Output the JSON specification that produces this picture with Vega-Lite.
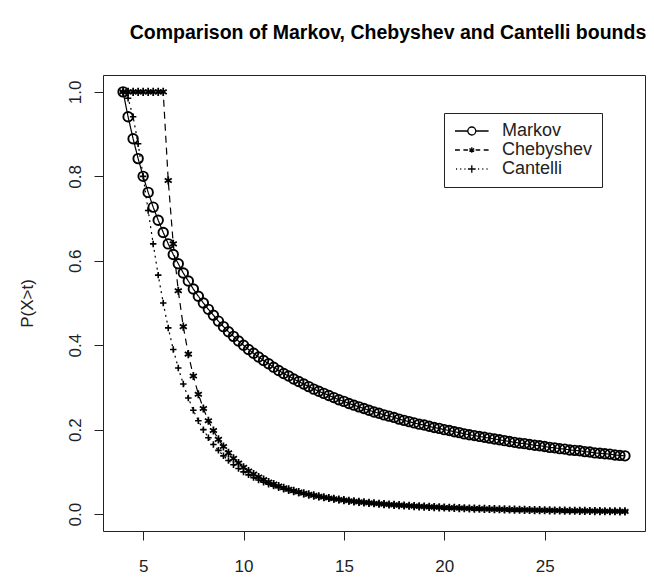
{
  "$schema": "https://vega.github.io/schema/vega-lite/v6.json",
  "width": 542,
  "height": 456,
  "autosize": {"type": "none"},
  "padding": {"left": 103, "top": 75, "right": 9, "bottom": 55},
  "background": "white",
  "title": {"text": "Comparison of Markov, Chebyshev and Cantelli bounds", "font": "Liberation Sans", "fontSize": 19.5, "fontWeight": "bold", "color": "black", "anchor": "middle", "offset": 32, "dx": 14},
  "config": {
    "view": {"stroke": "#222", "strokeWidth": 1},
    "axis": {"domain": false, "grid": false, "tickColor": "#222", "tickSize": 9, "labelFont": "Liberation Sans", "labelFontSize": 17, "labelColor": "#222", "titleFont": "Liberation Sans", "titleFontSize": 17, "titleFontWeight": "normal", "titleColor": "#222"}
  },
  "data": {"values": [
    {"t":4,"Markov":1,"Chebyshev":1,"Cantelli":1},
    {"t":4.25,"Markov":0.941,"Chebyshev":1,"Cantelli":0.985},
    {"t":4.5,"Markov":0.889,"Chebyshev":1,"Cantelli":0.941},
    {"t":4.75,"Markov":0.842,"Chebyshev":1,"Cantelli":0.877},
    {"t":5,"Markov":0.8,"Chebyshev":1,"Cantelli":0.8},
    {"t":5.25,"Markov":0.762,"Chebyshev":1,"Cantelli":0.719},
    {"t":5.5,"Markov":0.727,"Chebyshev":1,"Cantelli":0.64},
    {"t":5.75,"Markov":0.696,"Chebyshev":1,"Cantelli":0.566},
    {"t":6,"Markov":0.667,"Chebyshev":1,"Cantelli":0.5},
    {"t":6.25,"Markov":0.64,"Chebyshev":0.79,"Cantelli":0.441},
    {"t":6.5,"Markov":0.615,"Chebyshev":0.64,"Cantelli":0.39},
    {"t":6.75,"Markov":0.593,"Chebyshev":0.529,"Cantelli":0.346},
    {"t":7,"Markov":0.571,"Chebyshev":0.444,"Cantelli":0.308},
    {"t":7.25,"Markov":0.552,"Chebyshev":0.379,"Cantelli":0.275},
    {"t":7.5,"Markov":0.533,"Chebyshev":0.327,"Cantelli":0.246},
    {"t":7.75,"Markov":0.516,"Chebyshev":0.284,"Cantelli":0.221},
    {"t":8,"Markov":0.5,"Chebyshev":0.25,"Cantelli":0.2},
    {"t":8.25,"Markov":0.485,"Chebyshev":0.221,"Cantelli":0.181},
    {"t":8.5,"Markov":0.471,"Chebyshev":0.198,"Cantelli":0.165},
    {"t":8.75,"Markov":0.457,"Chebyshev":0.177,"Cantelli":0.151},
    {"t":9,"Markov":0.444,"Chebyshev":0.16,"Cantelli":0.138},
    {"t":9.25,"Markov":0.432,"Chebyshev":0.145,"Cantelli":0.127},
    {"t":9.5,"Markov":0.421,"Chebyshev":0.132,"Cantelli":0.117},
    {"t":9.75,"Markov":0.41,"Chebyshev":0.121,"Cantelli":0.108},
    {"t":10,"Markov":0.4,"Chebyshev":0.111,"Cantelli":0.1},
    {"t":10.25,"Markov":0.39,"Chebyshev":0.102,"Cantelli":0.093},
    {"t":10.5,"Markov":0.381,"Chebyshev":0.0947,"Cantelli":0.0865},
    {"t":10.75,"Markov":0.372,"Chebyshev":0.0878,"Cantelli":0.0807},
    {"t":11,"Markov":0.364,"Chebyshev":0.0816,"Cantelli":0.0755},
    {"t":11.25,"Markov":0.356,"Chebyshev":0.0761,"Cantelli":0.0707},
    {"t":11.5,"Markov":0.348,"Chebyshev":0.0711,"Cantelli":0.0664},
    {"t":11.75,"Markov":0.34,"Chebyshev":0.0666,"Cantelli":0.0624},
    {"t":12,"Markov":0.333,"Chebyshev":0.0625,"Cantelli":0.0588},
    {"t":12.25,"Markov":0.327,"Chebyshev":0.0588,"Cantelli":0.0555},
    {"t":12.5,"Markov":0.32,"Chebyshev":0.0554,"Cantelli":0.0525},
    {"t":12.75,"Markov":0.314,"Chebyshev":0.0522,"Cantelli":0.0497},
    {"t":13,"Markov":0.308,"Chebyshev":0.0494,"Cantelli":0.0471},
    {"t":13.25,"Markov":0.302,"Chebyshev":0.0467,"Cantelli":0.0447},
    {"t":13.5,"Markov":0.296,"Chebyshev":0.0443,"Cantelli":0.0424},
    {"t":13.75,"Markov":0.291,"Chebyshev":0.0421,"Cantelli":0.0404},
    {"t":14,"Markov":0.286,"Chebyshev":0.04,"Cantelli":0.0385},
    {"t":14.25,"Markov":0.281,"Chebyshev":0.0381,"Cantelli":0.0367},
    {"t":14.5,"Markov":0.276,"Chebyshev":0.0363,"Cantelli":0.035},
    {"t":14.75,"Markov":0.271,"Chebyshev":0.0346,"Cantelli":0.0335},
    {"t":15,"Markov":0.267,"Chebyshev":0.0331,"Cantelli":0.032},
    {"t":15.25,"Markov":0.262,"Chebyshev":0.0316,"Cantelli":0.0306},
    {"t":15.5,"Markov":0.258,"Chebyshev":0.0302,"Cantelli":0.0294},
    {"t":15.75,"Markov":0.254,"Chebyshev":0.029,"Cantelli":0.0282},
    {"t":16,"Markov":0.25,"Chebyshev":0.0278,"Cantelli":0.027},
    {"t":16.25,"Markov":0.246,"Chebyshev":0.0267,"Cantelli":0.026},
    {"t":16.5,"Markov":0.242,"Chebyshev":0.0256,"Cantelli":0.025},
    {"t":16.75,"Markov":0.239,"Chebyshev":0.0246,"Cantelli":0.024},
    {"t":17,"Markov":0.235,"Chebyshev":0.0237,"Cantelli":0.0231},
    {"t":17.25,"Markov":0.232,"Chebyshev":0.0228,"Cantelli":0.0223},
    {"t":17.5,"Markov":0.229,"Chebyshev":0.0219,"Cantelli":0.0215},
    {"t":17.75,"Markov":0.225,"Chebyshev":0.0212,"Cantelli":0.0207},
    {"t":18,"Markov":0.222,"Chebyshev":0.0204,"Cantelli":0.02},
    {"t":18.25,"Markov":0.219,"Chebyshev":0.0197,"Cantelli":0.0193},
    {"t":18.5,"Markov":0.216,"Chebyshev":0.019,"Cantelli":0.0187},
    {"t":18.75,"Markov":0.213,"Chebyshev":0.0184,"Cantelli":0.0181},
    {"t":19,"Markov":0.211,"Chebyshev":0.0178,"Cantelli":0.0175},
    {"t":19.25,"Markov":0.208,"Chebyshev":0.0172,"Cantelli":0.0169},
    {"t":19.5,"Markov":0.205,"Chebyshev":0.0166,"Cantelli":0.0164},
    {"t":19.75,"Markov":0.203,"Chebyshev":0.0161,"Cantelli":0.0159},
    {"t":20,"Markov":0.2,"Chebyshev":0.0156,"Cantelli":0.0154},
    {"t":20.25,"Markov":0.198,"Chebyshev":0.0151,"Cantelli":0.0149},
    {"t":20.5,"Markov":0.195,"Chebyshev":0.0147,"Cantelli":0.0145},
    {"t":20.75,"Markov":0.193,"Chebyshev":0.0143,"Cantelli":0.0141},
    {"t":21,"Markov":0.19,"Chebyshev":0.0138,"Cantelli":0.0137},
    {"t":21.25,"Markov":0.188,"Chebyshev":0.0134,"Cantelli":0.0133},
    {"t":21.5,"Markov":0.186,"Chebyshev":0.0131,"Cantelli":0.0129},
    {"t":21.75,"Markov":0.184,"Chebyshev":0.0127,"Cantelli":0.0125},
    {"t":22,"Markov":0.182,"Chebyshev":0.0123,"Cantelli":0.0122},
    {"t":22.25,"Markov":0.18,"Chebyshev":0.012,"Cantelli":0.0119},
    {"t":22.5,"Markov":0.178,"Chebyshev":0.0117,"Cantelli":0.0116},
    {"t":22.75,"Markov":0.176,"Chebyshev":0.0114,"Cantelli":0.0112},
    {"t":23,"Markov":0.174,"Chebyshev":0.0111,"Cantelli":0.011},
    {"t":23.25,"Markov":0.172,"Chebyshev":0.0108,"Cantelli":0.0107},
    {"t":23.5,"Markov":0.17,"Chebyshev":0.0105,"Cantelli":0.0104},
    {"t":23.75,"Markov":0.168,"Chebyshev":0.0103,"Cantelli":0.0102},
    {"t":24,"Markov":0.167,"Chebyshev":0.01,"Cantelli":0.0099},
    {"t":24.25,"Markov":0.165,"Chebyshev":0.0098,"Cantelli":0.0097},
    {"t":24.5,"Markov":0.163,"Chebyshev":0.0095,"Cantelli":0.0094},
    {"t":24.75,"Markov":0.162,"Chebyshev":0.0093,"Cantelli":0.0092},
    {"t":25,"Markov":0.16,"Chebyshev":0.0091,"Cantelli":0.009},
    {"t":25.25,"Markov":0.158,"Chebyshev":0.0089,"Cantelli":0.0088},
    {"t":25.5,"Markov":0.157,"Chebyshev":0.0087,"Cantelli":0.0086},
    {"t":25.75,"Markov":0.155,"Chebyshev":0.0085,"Cantelli":0.0084},
    {"t":26,"Markov":0.154,"Chebyshev":0.0083,"Cantelli":0.0082},
    {"t":26.25,"Markov":0.152,"Chebyshev":0.0081,"Cantelli":0.008},
    {"t":26.5,"Markov":0.151,"Chebyshev":0.0079,"Cantelli":0.0078},
    {"t":26.75,"Markov":0.15,"Chebyshev":0.0077,"Cantelli":0.0077},
    {"t":27,"Markov":0.148,"Chebyshev":0.0076,"Cantelli":0.0075},
    {"t":27.25,"Markov":0.147,"Chebyshev":0.0074,"Cantelli":0.0073},
    {"t":27.5,"Markov":0.145,"Chebyshev":0.0072,"Cantelli":0.0072},
    {"t":27.75,"Markov":0.144,"Chebyshev":0.0071,"Cantelli":0.007},
    {"t":28,"Markov":0.143,"Chebyshev":0.0069,"Cantelli":0.0069},
    {"t":28.25,"Markov":0.142,"Chebyshev":0.0068,"Cantelli":0.0068},
    {"t":28.5,"Markov":0.14,"Chebyshev":0.0067,"Cantelli":0.0066},
    {"t":28.75,"Markov":0.139,"Chebyshev":0.0065,"Cantelli":0.0065},
    {"t":29,"Markov":0.138,"Chebyshev":0.0064,"Cantelli":0.0064}
  ]},
  "transform": [{"fold": ["Markov", "Chebyshev", "Cantelli"], "as": ["series", "p"]}],
  "encoding": {
    "x": {"field": "t", "type": "quantitative", "scale": {"domain": [3, 30], "nice": false, "zero": false}, "axis": {"title": null, "values": [5, 10, 15, 20, 25], "labelPadding": 18}},
    "y": {"field": "p", "type": "quantitative", "scale": {"domain": [-0.04, 1.04], "nice": false, "zero": false}, "axis": {"title": "P(X>t)", "values": [0, 0.2, 0.4, 0.6, 0.8, 1], "format": ".1f", "labelAngle": -90, "labelAlign": "center", "labelBaseline": "bottom", "labelPadding": 10, "titlePadding": 30}}
  },
  "layer": [
    {
      "mark": {"type": "line", "color": "black", "strokeWidth": 1.2},
      "encoding": {
        "detail": {"field": "series"},
        "strokeDash": {"field": "series", "type": "nominal", "scale": {"domain": ["Markov", "Chebyshev", "Cantelli"], "range": [[1, 0], [7, 5], [2, 4]]}, "legend": null}
      }
    },
    {
      "mark": {"type": "point", "filled": false, "color": "black", "opacity": 1},
      "encoding": {
        "shape": {"field": "series", "type": "nominal", "scale": {"domain": ["Markov", "Chebyshev", "Cantelli"], "range": ["circle", "M0,-1V1M-0.87,-0.5L0.87,0.5M-0.87,0.5L0.87,-0.5", "M-1,0H1M0,-1V1"]}, "legend": null},
        "size": {"field": "series", "type": "nominal", "scale": {"domain": ["Markov", "Chebyshev", "Cantelli"], "range": [90, 42, 90]}, "legend": null},
        "strokeWidth": {"field": "series", "type": "nominal", "scale": {"domain": ["Markov", "Chebyshev", "Cantelli"], "range": [1.9, 1.6, 2.4]}, "legend": null}
      }
    },
    {
      "mark": {"type": "point", "filled": false, "color": "black", "opacity": 0, "size": 196},
      "encoding": {
        "shape": {"field": "series", "type": "nominal", "title": null, "scale": {"domain": ["Markov", "Chebyshev", "Cantelli"], "range": [
          "M-1,0H0.83M1.97,0H3.8M1.97,0A0.57,0.57 0 1,1 0.83,0A0.57,0.57 0 1,1 1.97,0",
          "M-1,0H-0.3M0.2,0H0.85M1.95,0H2.6M3.1,0H3.8M1.4,-0.4V0.4M1.05,-0.2L1.75,0.2M1.05,0.2L1.75,-0.2",
          "M-0.85,0H-0.7M-0.25,0H-0.1M0.35,0H0.5M0.85,0H1.95M1.4,-0.55V0.55M2.3,0H2.45M2.9,0H3.05M3.5,0H3.65"
        ]}, "legend": {"orient": "none", "legendX": 341, "legendY": 38, "padding": 9, "strokeColor": "#222", "fillColor": "white", "labelFont": "Liberation Sans", "labelFontSize": 18, "labelColor": "#222", "labelOffset": 31, "symbolOpacity": 1, "symbolStrokeColor": "black", "symbolStrokeWidth": 1.3, "symbolFillColor": "transparent", "symbolSize": 196, "rowPadding": 1}}
      }
    }
  ],
  "resolve": {"scale": {"shape": "independent"}}
}
